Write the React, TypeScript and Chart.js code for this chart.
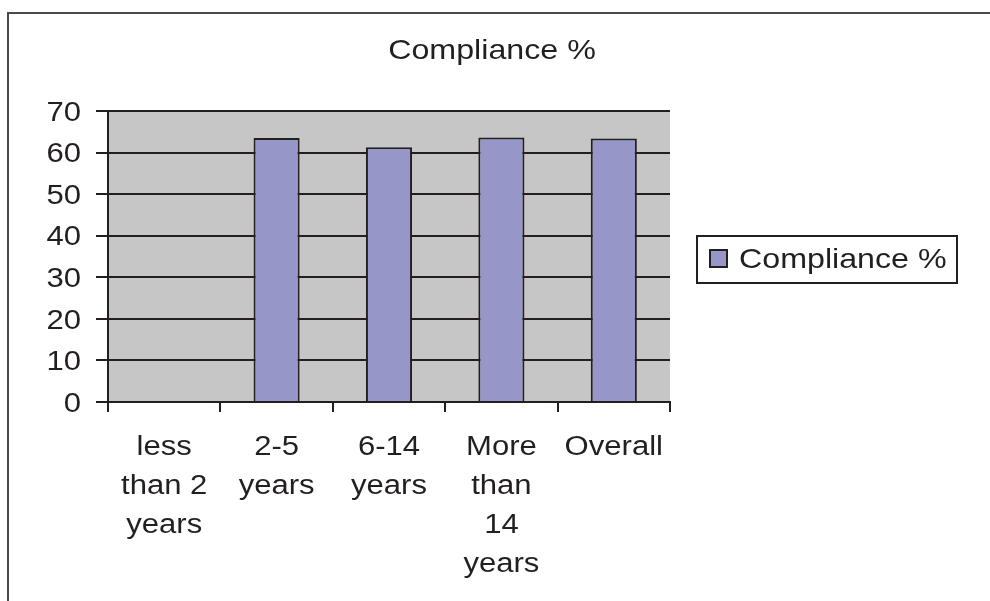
import React, { useEffect, useRef } from "react";
import { Chart, registerables } from "chart.js";

Chart.register(...registerables);

const TITLE = "Compliance %";
const SERIES_LABEL = "Compliance %";
const CATEGORIES: string[][] = [
  ["less", "than 2", "years"],
  ["2-5", "years"],
  ["6-14", "years"],
  ["More", "than", "14", "years"],
  ["Overall"],
];
const VALUES: (number | null)[] = [null, 63.5, 61.3, 63.6, 63.4];
const Y_MIN = 0;
const Y_MAX = 70;
const Y_STEP = 10;

const INK = "#231f20";
const PLOT_BG = "#c6c6c6";
const BAR_FILL = "#9696c8";
const FONT = "'Liberation Sans', Arial, sans-serif";
const SX = 1.15; // horizontal stretch of the lettering

function stretchedText(
  ctx: CanvasRenderingContext2D,
  text: string,
  x: number,
  y: number,
  align: CanvasTextAlign,
  size: number
) {
  ctx.save();
  ctx.translate(x, y);
  ctx.scale(SX, 1);
  ctx.font = `${size}px ${FONT}`;
  ctx.textAlign = align;
  ctx.textBaseline = "alphabetic";
  ctx.fillStyle = INK;
  ctx.fillText(text, 0, 0);
  ctx.restore();
}

export default function App() {
  const ref = useRef<HTMLCanvasElement>(null);

  useEffect(() => {
    const canvas = ref.current;
    if (!canvas) return;

    const decor = {
      id: "decor",
      beforeDraw(chart: any) {
        const { ctx, chartArea: a } = chart;
        ctx.save();
        ctx.fillStyle = "#ffffff";
        ctx.fillRect(0, 0, chart.width, chart.height);
        ctx.fillStyle = PLOT_BG;
        ctx.fillRect(a.left, a.top, a.right - a.left, a.bottom - a.top);
        ctx.strokeStyle = "#4a4a4a";
        ctx.lineWidth = 2;
        ctx.beginPath();
        ctx.moveTo(8, chart.height);
        ctx.lineTo(8, 13);
        ctx.lineTo(chart.width, 13);
        ctx.stroke();
        ctx.restore();
      },
      afterDraw(chart: any) {
        const ctx: CanvasRenderingContext2D = chart.ctx;
        const xs = chart.scales.x;
        const ys = chart.scales.y;

        // title
        stretchedText(ctx, TITLE, 492, 58.5, "center", 28);

        // y tick labels
        ys.ticks.forEach((t: any) => {
          const y = ys.getPixelForValue(t.value);
          stretchedText(ctx, String(t.value), 81, y + 9.7, "right", 27);
        });

        // x tick labels (multi-line)
        const labels = chart.data.labels as string[][];
        labels.forEach((lines, i) => {
          const x = xs.getPixelForValue(i);
          lines.forEach((line, j) => {
            stretchedText(ctx, line, x, xs.top + 53 + j * 39, "center", 27);
          });
        });

        // legend
        ctx.save();
        ctx.lineWidth = 2;
        ctx.strokeStyle = INK;
        ctx.strokeRect(697, 236, 260, 47);
        ctx.fillStyle = BAR_FILL;
        ctx.fillRect(710, 250, 17, 17);
        ctx.strokeRect(710, 250, 17, 17);
        ctx.restore();
        stretchedText(ctx, chart.data.datasets[0].label, 739, 268, "left", 28);
      },
    };

    const chart = new Chart(canvas, {
      type: "bar",
      data: {
        labels: CATEGORIES,
        datasets: [
          {
            label: SERIES_LABEL,
            data: VALUES,
            backgroundColor: BAR_FILL,
            borderColor: INK,
            borderWidth: 2,
            categoryPercentage: 1,
            barPercentage: 0.41,
          },
        ],
      },
      options: {
        responsive: false,
        animation: false,
        devicePixelRatio: 1,
        layout: { padding: { top: 111, right: 320, left: 0, bottom: 0 } },
        plugins: {
          legend: { display: false },
          title: { display: false },
          tooltip: { enabled: false },
        },
        scales: {
          x: {
            grid: {
              display: true,
              drawOnChartArea: false,
              drawTicks: true,
              tickLength: 10,
              color: INK,
              lineWidth: 2,
              offset: true,
            },
            border: { display: true, color: INK, width: 2 },
            ticks: { display: false, autoSkip: false },
            afterFit: (s: any) => {
              s.height = 199;
            },
          },
          y: {
            min: Y_MIN,
            max: Y_MAX,
            ticks: { display: false, stepSize: Y_STEP },
            grid: { color: INK, lineWidth: 2, tickLength: 12 },
            border: { display: true, color: INK, width: 2 },
            afterFit: (s: any) => {
              s.width = 108;
            },
          },
        },
      },
      plugins: [decor],
    } as any);

    return () => chart.destroy();
  }, []);

  return (
    <div style={{ position: "absolute", left: 0, top: 0, width: 990, height: 601 }}>
      <canvas ref={ref} width={990} height={601} style={{ display: "block" }} />
    </div>
  );
}
